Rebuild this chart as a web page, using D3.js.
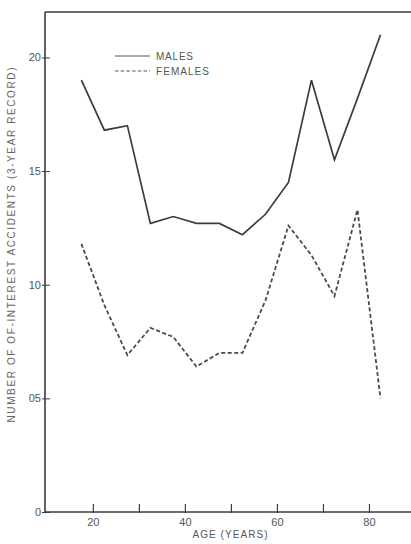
<!DOCTYPE html>
<html>
<head>
<meta charset="utf-8">
<script src="https://cdn.jsdelivr.net/npm/d3@7"></script>
<style>
  html, body { margin: 0; padding: 0; background: #fff; }
  svg { display: block; }
  text { font-family: "Liberation Sans", Arial, sans-serif; fill: #555; }
</style>
</head>
<body>
<svg id="chart" width="411" height="544"></svg>
<script>
// Age-group midpoints (years)
const ages = [17.5, 22.5, 27.5, 32.5, 37.5, 42.5, 47.5, 52.5, 57.5, 62.5, 67.5, 72.5, 77.5, 82.5];
// Mean number of of-interest accidents over a 3-year record
const males   = [1.90, 1.68, 1.70, 1.27, 1.30, 1.27, 1.27, 1.22, 1.31, 1.45, 1.90, 1.55, 1.82, 2.10];
const females = [1.18, 0.91, 0.69, 0.81, 0.77, 0.64, 0.70, 0.70, 0.93, 1.26, 1.13, 0.95, 1.33, 0.50];

const yTickValues = [0, 0.5, 1.0, 1.5, 2.0];
const yTickLabels = ["0", "05", "10", "15", "20"];
const xTickValues = [20, 30, 40, 50, 60, 70, 80];
const xTickLabels = ["20", "", "40", "", "60", "", "80"];

const svg = d3.select("#chart");
const ink = "#3c3c3c";

const x = d3.scaleLinear().domain([9.6, 90]).range([45, 415]);
const y = d3.scaleLinear().domain([0, 2.2]).range([512, 12]);

// Frame: left axis and top border
svg.append("line").attr("x1", x(9.6)).attr("x2", x(9.6)).attr("y1", y(2.2)).attr("y2", y(0))
  .attr("stroke", ink).attr("stroke-width", 1.6);
svg.append("line").attr("x1", x(9.6)).attr("x2", 411).attr("y1", y(2.2)).attr("y2", y(2.2))
  .attr("stroke", ink).attr("stroke-width", 1.4);

// Y axis
const yAxis = d3.axisLeft(y)
  .tickValues(yTickValues)
  .tickSizeOuter(0)
  .tickFormat((d, i) => yTickLabels[i]);
const gy = svg.append("g").attr("transform", `translate(${x(9.6)},0)`)
  .style("color", "#555").call(yAxis);
gy.select(".domain").remove();
gy.selectAll(".tick line").attr("stroke", ink).attr("x1", -3).attr("x2", 5).attr("stroke-width", 1);
gy.selectAll(".tick text").attr("x", -4).attr("font-size", 11)
  .attr("font-family", "Liberation Sans, Arial, sans-serif").style("fill", "#555");

// X axis
const xAxis = d3.axisBottom(x)
  .tickValues(xTickValues)
  .tickSizeOuter(0)
  .tickFormat((d, i) => xTickLabels[i]);
const gx = svg.append("g").attr("transform", `translate(0,${y(0)})`)
  .style("color", "#555").call(xAxis);
gx.select(".domain").attr("d", `M${x(9.6)},0H411`).attr("stroke", ink).attr("stroke-width", 1.4);
gx.selectAll(".tick line").attr("stroke", ink).attr("y1", -8).attr("y2", 1).attr("stroke-width", 1.2);
gx.selectAll(".tick text").attr("y", 6).attr("font-size", 11)
  .attr("font-family", "Liberation Sans, Arial, sans-serif").style("fill", "#555");

// Axis titles
svg.append("text").attr("x", x(49.8)).attr("y", 538).attr("text-anchor", "middle")
  .attr("font-size", 10).attr("textLength", 75).text("AGE (YEARS)");
svg.append("text").attr("transform", "translate(15,245) rotate(-90)").attr("text-anchor", "middle")
  .attr("font-size", 10).attr("textLength", 355).attr("lengthAdjust", "spacing")
  .style("fill", "#666")
  .text("NUMBER OF OF-INTEREST ACCIDENTS (3-YEAR RECORD)");

// Series lines
const line = d3.line().x((d, i) => x(ages[i])).y(d => y(d));
svg.append("path").datum(males).attr("d", line)
  .attr("fill", "none").attr("stroke", ink).attr("stroke-width", 1.7).attr("stroke-linejoin", "miter");
svg.append("path").datum(females).attr("d", line)
  .attr("fill", "none").attr("stroke", "#4a4a4a").attr("stroke-width", 1.8).attr("stroke-dasharray", "4,2.5");

// Legend
const legend = svg.append("g");
legend.append("line").attr("x1", 115).attr("x2", 150).attr("y1", 56).attr("y2", 56)
  .attr("stroke", "#555").attr("stroke-width", 1);
legend.append("text").attr("x", 156).attr("y", 60).attr("font-size", 10).attr("textLength", 37).text("MALES");
legend.append("line").attr("x1", 115).attr("x2", 150).attr("y1", 71).attr("y2", 71)
  .attr("stroke", "#555").attr("stroke-width", 1).attr("stroke-dasharray", "3.5,2.2");
legend.append("text").attr("x", 156).attr("y", 75).attr("font-size", 10).attr("textLength", 53).text("FEMALES");
</script>
</body>
</html>
